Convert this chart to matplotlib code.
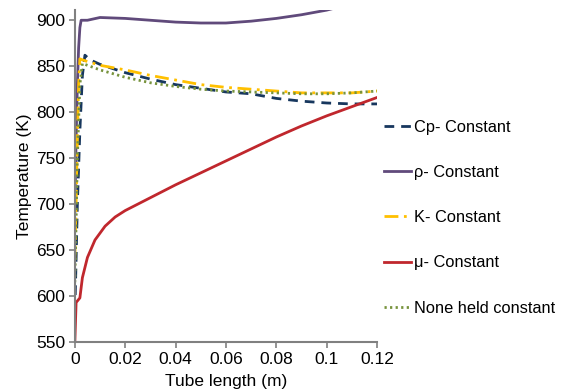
import numpy as np
import matplotlib.pyplot as plt

plt.rcParams['font.family'] = ['Liberation Sans', 'DejaVu Sans']

# tube length (m) and temperature (K)
x_cp = [0, 0.0005, 0.001, 0.002, 0.003, 0.004, 0.006, 0.01, 0.02, 0.03, 0.04,
        0.05, 0.06, 0.07, 0.08, 0.09, 0.1, 0.11, 0.12]
t_cp = [583, 640, 700, 780, 840, 862, 857, 852, 843, 836, 830,
        826, 822, 820, 815, 812, 810, 809, 809]

x_rho = [0, 0.0005, 0.001, 0.0015, 0.002, 0.0025, 0.005, 0.01, 0.02, 0.03,
         0.04, 0.05, 0.055, 0.06, 0.07, 0.08, 0.09, 0.1, 0.11, 0.12]
t_rho = [690, 770, 830, 870, 892, 900, 900, 903, 902, 900,
         898, 897, 897, 897, 899, 902, 906, 911, 918, 926]

x_k = [0, 0.0005, 0.001, 0.0015, 0.002, 0.004, 0.01, 0.02, 0.03, 0.04, 0.05,
       0.06, 0.07, 0.08, 0.09, 0.1, 0.11, 0.12]
t_k = [640, 700, 770, 830, 858, 856, 851, 846, 840, 835, 830,
       827, 825, 823, 821, 821, 821, 823]

x_mu = [0, 0.0005, 0.002, 0.003, 0.005, 0.008, 0.012, 0.016, 0.02, 0.03,
        0.04, 0.05, 0.06, 0.07, 0.08, 0.09, 0.1, 0.11, 0.12]
t_mu = [550, 593, 598, 620, 642, 661, 676, 686, 693, 707,
        721, 734, 747, 760, 773, 785, 796, 806, 816]

x_none = [0, 0.0005, 0.001, 0.002, 0.003, 0.005, 0.01, 0.02, 0.03, 0.04,
          0.05, 0.06, 0.07, 0.08, 0.09, 0.1, 0.11, 0.12]
t_none = [615, 680, 750, 830, 853, 851, 846, 838, 832, 828,
          825, 823, 822, 821, 820, 820, 821, 823]

fig = plt.figure(figsize=(5.67, 3.9), dpi=100)
ax = fig.add_axes([0.132, 0.123, 0.533, 0.851])

ax.plot(x_cp, t_cp, color='#17375E', lw=2, dashes=(3.5, 2.5), label='Cp- Constant')
ax.plot(x_rho, t_rho, color='#604A7B', lw=2, label='ρ- Constant')
ax.plot(x_k, t_k, color='#FFC000', lw=2, dashes=(5, 2, 1, 2), label='K- Constant')
ax.plot(x_mu, t_mu, color='#C0272D', lw=2, label='μ- Constant')
ax.plot(x_none, t_none, color='#77933C', lw=2, dashes=(0.8, 1.2), label='None held constant')

ax.set_xlim(0, 0.12)
ax.set_ylim(550, 911)
ax.set_xticks([0, 0.02, 0.04, 0.06, 0.08, 0.1, 0.12])
ax.set_xticklabels(['0', '0.02', '0.04', '0.06', '0.08', '0.1', '0.12'])
ax.set_yticks(range(550, 901, 50))
ax.set_xlabel('Tube length (m)', fontsize=12.5, labelpad=5)
ax.set_ylabel('Temperature (K)', fontsize=12.5, labelpad=3)
ax.tick_params(labelsize=12.5, color='#808080', length=4, width=1.2, pad=3)
for s in ['top', 'right']:
    ax.spines[s].set_visible(False)
for s in ['left', 'bottom']:
    ax.spines[s].set_color('#808080')
    ax.spines[s].set_linewidth(1.5)

ax.legend(loc='upper left', bbox_to_anchor=(0.99, 0.70), frameon=False,
          fontsize=11.8, labelspacing=1.85, handlelength=1.65, handletextpad=0.2,
          borderaxespad=0.2)

fig.savefig('out.png', dpi=100)
